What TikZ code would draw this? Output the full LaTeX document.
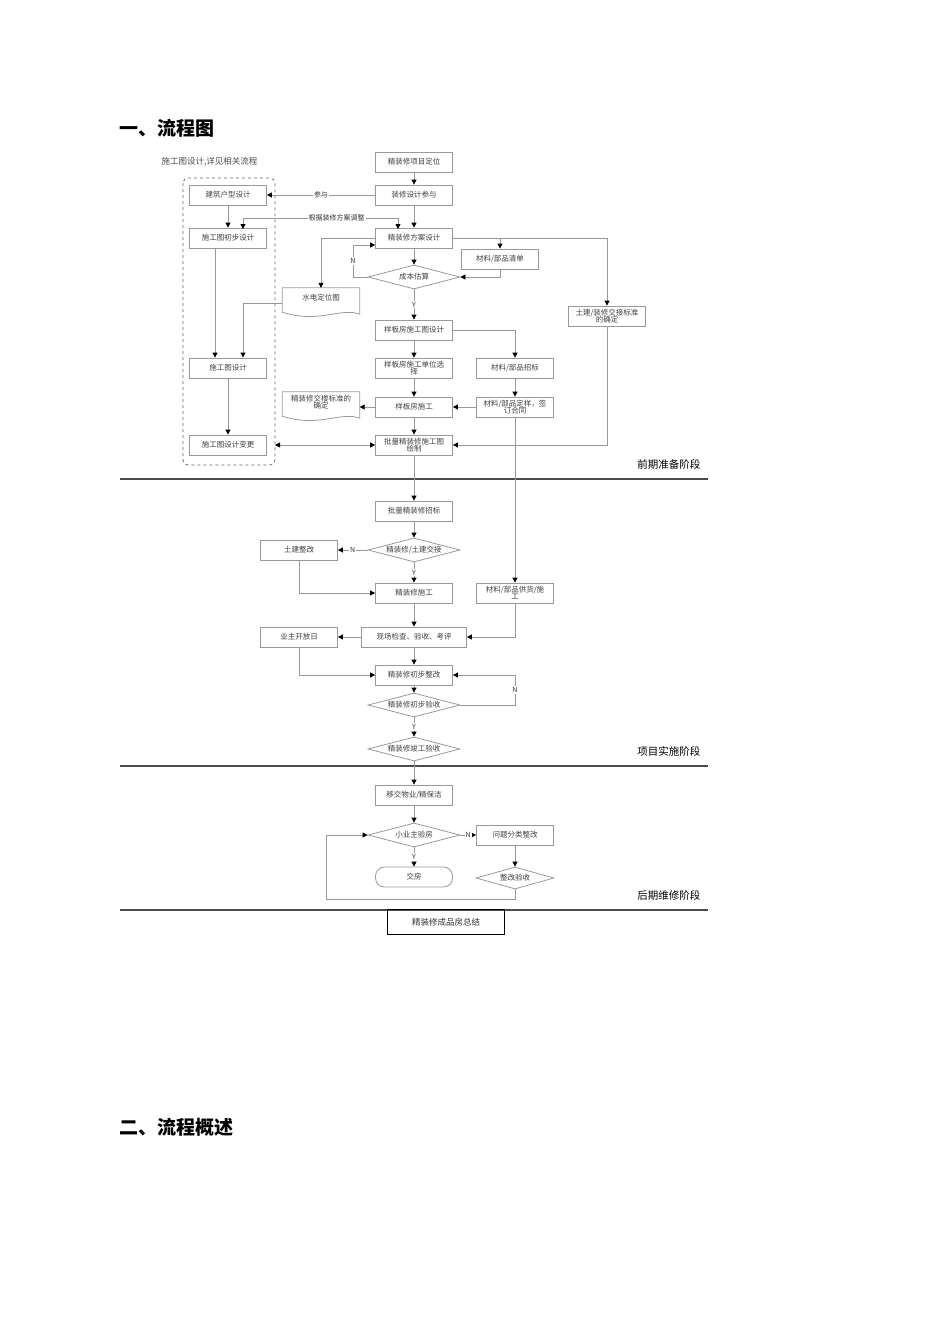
\documentclass[tikz,border=0pt]{standalone}
\usepackage{fontspec}
\setmainfont{Noto Sans CJK SC}
\usetikzlibrary{shapes.geometric,arrows.meta,calc}
\begin{document}
\begin{tikzpicture}[x=1pt,y=-1pt,
  every node/.style={font=\fontsize{7.5}{8.5}\selectfont, text=black!75},
  bx/.style={draw=black!40, line width=0.8pt, minimum width=77, minimum height=20, inner sep=1pt, align=center, text width=75},
  dia/.style={draw=black!40, line width=0.8pt, diamond, aspect=3.6, inner sep=0pt, minimum width=92, minimum height=24},
  ln/.style={draw=black!40, line width=0.8pt},
  ar/.style={ln, -{Triangle[length=5,width=5,color=black]}},
  lb/.style={font=\fontsize{7}{8}\selectfont, text=black!80, fill=white, inner sep=1pt},
  stage/.style={font=\fontsize{10.5}{12}\selectfont, text=black, anchor=east},
  sep/.style={draw=black!70, line width=1.2pt}]
\useasboundingbox (0,0) rectangle (950,1344);
\node[font=\fontsize{19}{22}\selectfont\bfseries, text=black, anchor=west] (h1) at (116,128) {一、流程图};
\node[font=\fontsize{19}{22}\selectfont\bfseries, text=black, anchor=west] (h2) at (116,1127) {二、流程概述};
\node[font=\fontsize{8.5}{10}\selectfont, text=black!70, anchor=west] (note) at (158,162) {施工图设计,详见相关流程};
\draw[black!60, dashed, line width=0.8pt, rounded corners=5] (183,178) rectangle (275,465);
% boxes
\node[bx] (a1) at (414,162) {精装修项目定位};
\node[bx] (a2) at (414,195) {装修设计参与};
\node[bx] (l1) at (228,195) {建筑户型设计};
\node[bx] (l2) at (228,238) {施工图初步设计};
\node[bx] (a3) at (414,238) {精装修方案设计};
\node[bx] (m1) at (500,259) {材料/部品清单};
\node[dia] (d1) at (414,277) {成本估算};
\node[bx] (r1) at (607,316) {土建/装修交接标准\\[-2pt]的确定};
\node[minimum width=77, minimum height=20, inner sep=0] (w1) at (321,298) {水电定位图};
\draw[ln] (w1.north west) -- (w1.north east) -- ($(w1.south east)+(0,6)$) .. controls (340,307) and (320,324) .. ($(w1.south west)+(0,4)$) -- cycle;
\node[bx] (a4) at (414,330) {样板房施工图设计};
\node[bx] (l3) at (228,368) {施工图设计};
\node[bx] (a5) at (414,368) {样板房施工单位选\\[-2pt]择};
\node[bx] (m2) at (515,368) {材料/部品招标};
\node[bx] (a6) at (414,407) {样板房施工};
\node[bx] (m3) at (515,407) {材料/部品定样，签\\[-2pt]订合同};
\node[minimum width=77, minimum height=20, inner sep=0, align=center] (w2) at (321,402) {精装修交楼标准的\\[-2pt]确定};
\draw[ln] (w2.north west) -- (w2.north east) -- ($(w2.south east)+(0,6)$) .. controls (340,411) and (320,428) .. ($(w2.south west)+(0,4)$) -- cycle;
\node[bx] (l4) at (228,445) {施工图设计变更};
\node[bx] (a7) at (414,445) {批量精装修施工图\\[-2pt]绘制};
\node[stage] (s1) at (704,464) {前期准备阶段};
\draw[sep] (120,479) -- (708,479);
\node[bx] (b1) at (414,511) {批量精装修招标};
\node[dia] (d2) at (414,550) {精装修/土建交接};
\node[bx] (b2) at (299,550) {土建整改};
\node[bx] (b3) at (414,593) {精装修施工};
\node[bx] (m4) at (515,593) {材料/部品供货/施\\[-2pt]工};
\node[bx, minimum width=105, text width=103] (b4) at (414,637) {现场检查、验收、考评};
\node[bx] (b5) at (299,637) {业主开放日};
\node[bx] (b6) at (414,675) {精装修初步整改};
\node[dia] (d3) at (414,705) {精装修初步验收};
\node[dia] (d4) at (414,749) {精装修竣工验收};
\node[stage] (s2) at (704,751) {项目实施阶段};
\draw[sep] (120,766) -- (708,766);
\node[bx] (c1) at (414,795) {移交物业/精保洁};
\node[dia] (d5) at (414,835) {小业主验房};
\node[bx] (c2) at (515,835) {问题分类整改};
\node[bx, rounded corners=9] (c3) at (414,877) {交房};
\node[dia, minimum width=78, minimum height=22] (d6) at (515,878) {整改验收};
\node[stage] (s3) at (704,895) {后期维修阶段};
\draw[sep] (120,910) -- (708,910);
\node[draw=black, line width=1.2pt, minimum width=117, minimum height=25, font=\fontsize{8.5}{10}\selectfont, text=black!80] (c4) at (446,922) {精装修成品房总结};
% connectors
\draw[ar] (a1) -- (a2);
\draw[ar] (a2) -- node[lb]{参与} (l1);
\draw[ar] (a2) -- (a3);
\draw[ar] (l1.south) -- (l2.north);
\draw[ar] (275,218) -| (243,229);
\draw[ar] (275,218) -- node[lb]{根据装修方案调整} (398,218) -- (398,229);
\draw[ar] (a3) -- (d1);
\draw[ar] (a3.east) -| (m1.north);
\draw[ar] (a3.east) -| (r1.north);
\draw[ar] (m1.south) |- (d1.east);
\draw[ar] (d1.west) -- (353,277) -- node[lb,pos=0.5]{N} (353,245) -- (a3.south west |- 0,245);
\draw[ar] (a3.west) -| (w1.north);
\draw[ar] (w1.west |- 0,303) -| (l3.north -| 243,0);
\draw[ar] (l2.south -| 215,0) -- (l3.north -| 215,0);
\draw[ar] (d1) -- node[lb]{Y} (a4);
\draw[ar] (a4.east) -| (m2.north);
\draw[ar] (a4) -- (a5);
\draw[ar] (a5) -- (a6);
\draw[ar] (m2) -- (m3);
\draw[ar] (m3) -- (a6);
\draw[ar] (a6) -- (w2.east |- a6);
\draw[ar] (a6) -- (a7);
\draw[ar] (l3) -- (l4);
\draw[ln, {Triangle[length=5,width=5,color=black]}-{Triangle[length=5,width=5,color=black]}] (275,445) -- (a7.west);
\draw[ar] (r1.south) |- (a7.east);
\draw[ar] (m3.south) -- (m4.north);
\draw[ar] (a7) -- (b1);
\draw[ar] (b1) -- (d2);
\draw[ar] (d2) -- node[lb]{N} (b2);
\draw[ar] (d2) -- node[lb]{Y} (b3);
\draw[ar] (b2.south) |- (b3.west);
\draw[ar] (b3) -- (b4);
\draw[ar] (m4.south) |- (b4.east);
\draw[ar] (b4) -- (b5);
\draw[ar] (b5.south) |- (b6.west);
\draw[ar] (b4) -- (b6);
\draw[ar] (b6) -- (d3);
\draw[ar] (d3.east) -- (515,705) -- node[lb]{N} (515,675) -- (b6.east);
\draw[ar] (d3) -- node[lb]{Y} (d4);
\draw[ar] (d4) -- (c1);
\draw[ar] (c1) -- (d5);
\draw[ar] (d5) -- node[lb]{N} (c2);
\draw[ar] (d5) -- node[lb]{Y} (c3);
\draw[ar] (c2) -- (d6);
\draw[ar] (d6.south) -- (515,899) -- (326,899) -- (326,835) -- (d5.west);
\end{tikzpicture}
\end{document}
